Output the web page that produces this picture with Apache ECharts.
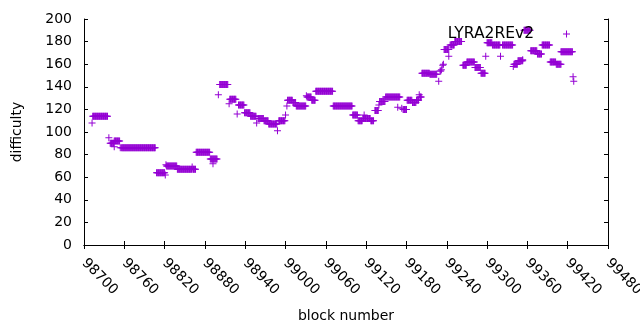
<!DOCTYPE html>
<html>
<head>
<meta charset="utf-8">
<script src="https://cdn.jsdelivr.net/npm/echarts@6/dist/echarts.min.js"></script>
<style>
html,body{margin:0;padding:0;background:#fff;}
#chart{width:640px;height:330px;}
</style>
</head>
<body>
<div id="chart"></div>
<script>
// Runs of constant difficulty: first block, last block, difficulty
var runFirstBlock = [98712,98713,98737,98739,98745,98745,98754,98756,98808,98821,98822,98823,98839,98861,98862,98867,98888,98892,98900,98902,98916,98917,98928,98930,98939,98948,98957,98959,98968,98975,98988,98990,99000,99002,99003,99011,99016,99031,99032,99039,99045,99071,99100,99108,99115,99117,99127,99133,99139,99140,99149,99167,99173,99175,99181,99189,99195,99199,99200,99203,99215,99228,99230,99232,99234,99235,99236,99243,99245,99252,99264,99270,99282,99291,99298,99300,99308,99320,99323,99339,99340,99346,99353,99355,99365,99375,99382,99394,99403,99410,99411,99428,99429];
var runLastBlock  = [98712,98735,98737,98744,98745,98753,98754,98806,98820,98821,98822,98838,98860,98861,98866,98887,98898,98892,98900,98914,98916,98926,98928,98938,98947,98956,98957,98967,98974,98987,98988,98999,99000,99002,99010,99015,99030,99031,99038,99044,99070,99099,99107,99114,99126,99117,99131,99138,99139,99148,99170,99167,99173,99180,99188,99194,99198,99199,99202,99214,99225,99228,99231,99232,99234,99235,99243,99243,99251,99262,99269,99281,99290,99297,99298,99307,99319,99320,99338,99339,99345,99353,99353,99364,99374,99381,99393,99402,99410,99410,99427,99428,99429];
var runDifficulty = [108,114,95,90,87,92,86,86,64,62,71,70,67,69,67,82,76,72,133,142,125,129,116,124,117,114,108,112,110,107,101,110,115,123,128,126,123,132,131,128,136,123,115,110,112,115,110,119,124,127,131,122,121,120,128,126,128,133,131,152,151,145,154,155,159,160,173,167,177,180,159,162,157,152,167,179,177,167,177,158,160,163,164,190,172,169,177,162,160,171,171,149,145];

var seriesName = 'LYRA2REv2';
var xTickMin = 98700, xTickMax = 99480, xTickStep = 60;
var yTickMin = 0, yTickMax = 200, yTickStep = 20;

var points = [];
for (var i = 0; i < runFirstBlock.length; i++) {
  for (var b = runFirstBlock[i]; b <= runLastBlock[i]; b++) {
    points.push([b, runDifficulty[i]]);
  }
}

var plus = 'path://M3,0 L4,0 L4,3 L7,3 L7,4 L4,4 L4,7 L3,7 L3,4 L0,4 L0,3 L3,3 Z';
var purple = '#9400d3';
var font = 'DejaVu Sans, sans-serif';
var fs = 14;

var chart = echarts.init(document.getElementById('chart'), null, {renderer: 'canvas'});
var axisCommon = {
  axisLine: {show: true, lineStyle: {color: '#000', width: 1}},
  axisTick: {show: true, inside: true, length: 4, lineStyle: {color: '#000', width: 1}},
  splitLine: {show: false}
};
chart.setOption({
  animation: false,
  backgroundColor: '#fff',
  grid: {left: 84, right: 32, top: 19, bottom: 85, show: false, containLabel: false, outerBoundsMode: 'none'},
  legend: {
    data: [{name: seriesName, icon: plus}],
    right: 65, top: 21,
    align: 'right',
    itemWidth: 7, itemHeight: 7,
    textStyle: {fontFamily: font, fontSize: 15.5, color: '#000', padding: [0, 24, 0, 0]}
  },
  xAxis: [
    Object.assign({
      type: 'value', min: xTickMin, max: xTickMax, interval: xTickStep,
      position: 'bottom',
      name: 'block number', nameLocation: 'middle', nameGap: 64,
      nameTextStyle: {fontFamily: font, fontSize: fs, color: '#000'},
      axisLabel: {rotate: -45, margin: 16, fontFamily: font, fontSize: fs, color: '#000',
        formatter: function (v) { return String(v); }}
    }, axisCommon),
    Object.assign({
      type: 'value', min: xTickMin, max: xTickMax, interval: xTickStep,
      position: 'top', axisLabel: {show: false}
    }, axisCommon)
  ],
  yAxis: [
    Object.assign({
      type: 'value', min: yTickMin, max: yTickMax, interval: yTickStep,
      position: 'left',
      name: 'difficulty', nameLocation: 'middle', nameGap: 60, nameRotate: 90,
      nameTextStyle: {fontFamily: font, fontSize: fs, color: '#000'},
      axisLabel: {margin: 12, fontFamily: font, fontSize: fs, color: '#000'}
    }, axisCommon),
    Object.assign({
      type: 'value', min: yTickMin, max: yTickMax, interval: yTickStep,
      position: 'right', axisLabel: {show: false}
    }, axisCommon)
  ],
  series: [{
    name: seriesName,
    type: 'scatter',
    xAxisIndex: 0, yAxisIndex: 0,
    symbol: plus,
    symbolSize: 7,
    itemStyle: {color: purple, opacity: 1},
    emphasis: {disabled: true},
    data: points
  }]
});
</script>
</body>
</html>
